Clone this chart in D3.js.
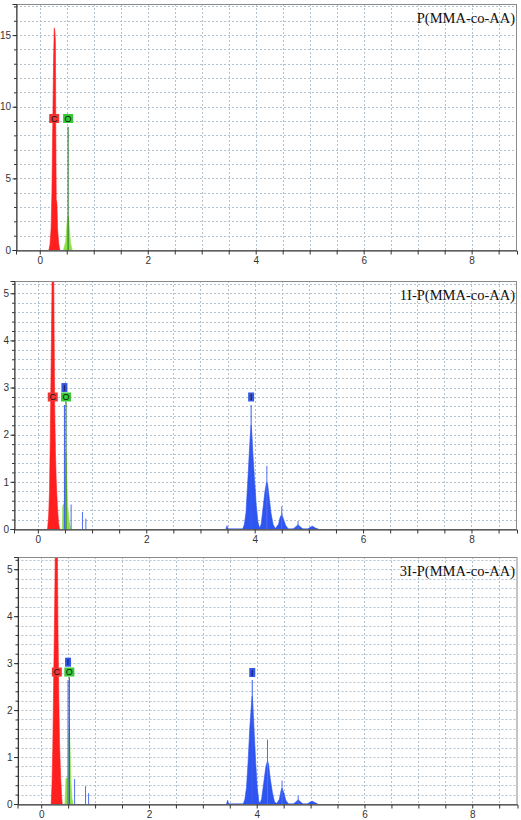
<!DOCTYPE html>
<html>
<head>
<meta charset="utf-8">
<script src="https://cdn.jsdelivr.net/npm/d3@7"></script>
<style>
  body { margin: 0; background: #fff; }
  svg { display: block; }
</style>
</head>
<body>
<script>
// ---- data (energy keV, counts) ----
var panelTitles = ["P(MMA-co-AA)", "1I-P(MMA-co-AA)", "3I-P(MMA-co-AA)"];
var xTicks = [0, 2, 4, 6, 8];
var yMax = [17.17, 5.26, 5.26];
var yTicks = [[0, 5, 10, 15], [0, 1, 2, 3, 4, 5], [0, 1, 2, 3, 4, 5]];
var yMinorStep = [1, 0.2, 0.2];

// panel 1
var carbon1 = [[0.17,0],[0.19,0.4],[0.21,1.5],[0.225,4],[0.24,8.5],[0.255,13],[0.268,15.5],[0.28,15.3],[0.29,14.5],[0.298,8],[0.305,3.5],[0.318,3.3],[0.33,1.5],[0.35,0.5],[0.37,0]];
var oxygen1 = [[0.44,0],[0.48,0.6],[0.50,1.6],[0.515,2.3],[0.525,2.4],[0.535,2.2],[0.55,1.4],[0.57,0.5],[0.60,0]];
var iodine1 = [];
var sticks1 = [];
var labels1 = [{el:"C", x:0.268, y:9.18, line:0}, {el:"O", x:0.525, y:9.18, line:8.6}];

// panel 2
var carbon2 = [[0.18,0],[0.20,0.3],[0.215,0.8],[0.23,2.0],[0.245,3.5],[0.26,5.0],[0.27,6.5],[0.28,6.8],[0.29,6.0],[0.30,4.2],[0.31,2.6],[0.325,1.6],[0.34,1.0],[0.36,0.5],[0.38,0.15],[0.40,0]];
var oxygen2 = [[0.45,0],[0.46,0.5],[0.49,0.55],[0.50,1.0],[0.51,1.5],[0.518,1.64],[0.53,1.2],[0.55,0.5],[0.58,0.15],[0.61,0]];
var iodine2 = [[3.47,0],[3.49,0.07],[3.51,0],[3.78,0],[3.81,0.1],[3.84,0.35],[3.87,0.95],[3.90,1.6],[3.92,2.0],[3.935,2.2],[3.95,2.0],[3.97,1.55],[4.00,1.0],[4.03,0.5],[4.06,0.15],[4.09,0.02],
  [4.12,0.1],[4.155,0.45],[4.19,0.8],[4.22,1.0],[4.24,0.95],[4.27,0.65],[4.30,0.35],[4.34,0.1],[4.38,0.01],
  [4.44,0.1],[4.47,0.25],[4.50,0.31],[4.53,0.22],[4.57,0.08],[4.62,0],[4.71,0],[4.76,0.05],[4.80,0.09],[4.84,0.05],[4.89,0],
  [4.98,0],[5.03,0.04],[5.07,0.06],[5.12,0.02],[5.17,0]];
var sticks2 = [[0.614,0.52],[0.823,0.36],[0.886,0.22],[4.225,1.34],[4.50,0.48],[4.80,0.17]];
var labels2 = [{el:"C", x:0.275, y:2.8, line:0}, {el:"O", x:0.52, y:2.8, line:2.7}, {el:"I", x:0.49, y:3.0, line:2.63}, {el:"I", x:3.935, y:2.8, line:2.63}];

// panel 3
var carbon3 = [[0.185,0],[0.20,0.4],[0.215,1.2],[0.23,2.5],[0.25,4.2],[0.265,5.8],[0.28,7],[0.29,6.9],[0.30,5.5],[0.31,3.8],[0.325,2.4],[0.34,1.3],[0.36,0.6],[0.38,0.15],[0.39,0]];
var oxygen3 = [[0.44,0],[0.46,0.55],[0.495,0.55],[0.505,1.1],[0.515,1.55],[0.522,1.65],[0.535,1.2],[0.55,0.5],[0.57,0.12],[0.59,0]];
var iodine3 = [[3.44,0],[3.46,0.08],[3.48,0],[3.75,0],[3.78,0.1],[3.81,0.35],[3.84,0.9],[3.87,1.6],[3.90,2.1],[3.915,2.3],[3.93,2.1],[3.95,1.6],[3.98,0.9],[4.01,0.35],[4.04,0.05],[4.06,0.02],
  [4.09,0.1],[4.13,0.45],[4.17,0.8],[4.20,0.92],[4.22,0.85],[4.25,0.55],[4.29,0.25],[4.33,0.05],[4.37,0.01],
  [4.42,0.1],[4.45,0.28],[4.47,0.34],[4.50,0.25],[4.54,0.08],[4.59,0],[4.68,0],[4.73,0.05],[4.77,0.09],[4.81,0.05],[4.86,0],
  [4.94,0],[4.99,0.04],[5.03,0.06],[5.08,0.03],[5.13,0]];
var sticks3 = [[0.62,0.53],[0.823,0.38],[0.88,0.23],[4.20,1.37],[4.47,0.50],[4.77,0.18]];
var labels3 = [{el:"C", x:0.29, y:2.81, line:0}, {el:"O", x:0.522, y:2.81, line:2.7}, {el:"I", x:0.498, y:3.02, line:2.64}, {el:"I", x:3.917, y:2.8, line:2.64}];

var carbons = [carbon1, carbon2, carbon3];
var oxygens = [oxygen1, oxygen2, oxygen3];
var iodines = [iodine1, iodine2, iodine3];
var sticks = [sticks1, sticks2, sticks3];
var labels = [labels1, labels2, labels3];

// ---- layout ----
var width = 521, height = 820;
var boxes = [
  {left:16, right:517, top:4, bottom:250},
  {left:14, right:517, top:281, bottom:529},
  {left:17.5, right:517.5, top:557, bottom:804}
];
var xDomain = [-0.44, 8.84];
var fill = {C:"#ff1f1f", O:"#8ee04a", I:"#2f55f0"};
var boxFill = {C:"#ee3535", O:"#36c936", I:"#3557e6"};
var lineCol = {C:"#c00000", O:"#1f6a1f", I:"#3a5cf0"};

var svg = d3.select("body").append("svg")
    .attr("width", width)
    .attr("height", height);

boxes.forEach(function(b, i)
{
    var x = d3.scaleLinear().domain(xDomain).range([b.left, b.right]);
    var y = d3.scaleLinear().domain([0, yMax[i]]).range([b.bottom, b.top]);
    var g = svg.append("g");

    g.append("clipPath").attr("id", "clip" + i)
      .append("rect")
      .attr("x", b.left).attr("y", b.top)
      .attr("width", b.right - b.left).attr("height", b.bottom - b.top);

    // dotted grid
    var xs = d3.range(-0.5, 9, 0.5).filter(function(v){ return v > xDomain[0] && v < xDomain[1]; });
    var ys = d3.range(yMinorStep[i], yMax[i], yMinorStep[i]);
    g.selectAll(".vg").data(xs).enter().append("line")
      .attr("x1", function(d){ return Math.round(x(d)) + 0.5; })
      .attr("x2", function(d){ return Math.round(x(d)) + 0.5; })
      .attr("y1", b.top).attr("y2", b.bottom)
      .attr("stroke", "#b3c1cc").attr("stroke-dasharray", "2,2");
    g.selectAll(".hg").data(ys).enter().append("line")
      .attr("y1", function(d){ return Math.round(y(d)) + 0.5; })
      .attr("y2", function(d){ return Math.round(y(d)) + 0.5; })
      .attr("x1", b.left).attr("x2", b.right)
      .attr("stroke", "#b3c1cc").attr("stroke-dasharray", "2,2");

    var plot = g.append("g").attr("clip-path", "url(#clip" + i + ")");
    var area = d3.area()
      .x(function(d){ return x(d[0]); })
      .y0(y(0))
      .y1(function(d){ return y(d[1]); });

    [["O", oxygens[i]], ["C", carbons[i]], ["I", iodines[i]]].forEach(function(s)
    {
        if (s[1].length == 0) return;
        plot.append("path").datum(s[1])
          .attr("d", area)
          .attr("fill", fill[s[0]])
          .attr("stroke", fill[s[0]])
          .attr("stroke-width", 0.6);
    });

    // light stick lines
    plot.selectAll(".stick").data(sticks[i]).enter().append("line")
      .attr("x1", function(d){ return x(d[0]); })
      .attr("x2", function(d){ return x(d[0]); })
      .attr("y1", y(0))
      .attr("y2", function(d){ return y(d[1]); })
      .attr("stroke", "#4f6ff2").attr("stroke-width", 1);

    // marker lines then element boxes
    plot.selectAll(".mk").data(labels[i].filter(function(d){ return d.line > 0; })).enter().append("line")
      .attr("x1", function(d){ return x(d.x); })
      .attr("x2", function(d){ return x(d.x); })
      .attr("y1", y(0))
      .attr("y2", function(d){ return y(d.line); })
      .attr("stroke", function(d){ return lineCol[d.el]; }).attr("stroke-width", 1);

    var lab = g.selectAll(".lab").data(labels[i]).enter().append("g")
      .attr("transform", function(d){ return "translate(" + x(d.x) + "," + y(d.y) + ")"; });
    lab.append("rect")
      .attr("x", function(d){ return d.el == "I" ? -3 : -5; })
      .attr("y", -4.5)
      .attr("width", function(d){ return d.el == "I" ? 6 : 10; })
      .attr("height", 9)
      .attr("fill", function(d){ return boxFill[d.el]; });
    lab.append("text")
      .attr("text-anchor", "middle")
      .attr("y", 3.3)
      .attr("font-family", "Liberation Sans, Arial, sans-serif")
      .attr("font-size", 9)
      .attr("fill", "#111")
      .text(function(d){ return d.el; });

    // frame
    g.append("rect")
      .attr("x", b.left + 0.5).attr("y", b.top + 0.5)
      .attr("width", b.right - b.left - 1).attr("height", b.bottom - b.top)
      .attr("fill", "none").attr("stroke", "#8a8a8a");

    // axes
    var xAxis = d3.axisBottom(x).tickValues(xs).tickSize(4).tickPadding(2)
      .tickFormat(function(d){ return xTicks.indexOf(d) >= 0 ? d : ""; });
    var ax = g.append("g").attr("transform", "translate(0," + (b.bottom + 0.5) + ")").call(xAxis);
    ax.select(".domain").attr("stroke", "#333");
    ax.selectAll(".tick line").attr("stroke", "#333");
    ax.selectAll("text").attr("font-family", "Liberation Sans, Arial, sans-serif")
      .attr("font-size", 10).attr("fill", "#333").attr("dy", "0.78em");

    var yMinor = d3.range(0, yMax[i], yMinorStep[i]);
    var yAxisMinor = d3.axisLeft(y).tickValues(yMinor).tickSize(2.5).tickFormat("");
    var ay2 = g.append("g").attr("transform", "translate(" + (b.left + 0.5) + ",0)").call(yAxisMinor);
    ay2.select(".domain").remove();
    ay2.selectAll(".tick line").attr("stroke", "#333");
    var yAxis = d3.axisLeft(y).tickValues(yTicks[i]).tickSize(4).tickPadding(1.5).tickFormat(d3.format("d"));
    var ay = g.append("g").attr("transform", "translate(" + (b.left + 0.5) + ",0)").call(yAxis);
    ay.select(".domain").attr("stroke", "#333");
    ay.selectAll(".tick line").attr("stroke", "#333");
    ay.selectAll("text").attr("font-family", "Liberation Sans, Arial, sans-serif")
      .attr("font-size", 10).attr("fill", "#333");

    // panel title
    g.append("text")
      .attr("x", 515).attr("y", b.top + 19)
      .attr("text-anchor", "end")
      .attr("font-family", "Liberation Serif, Times New Roman, serif")
      .attr("font-size", 14.5)
      .attr("fill", "#111")
      .text(panelTitles[i]);
});
</script>
</body>
</html>
